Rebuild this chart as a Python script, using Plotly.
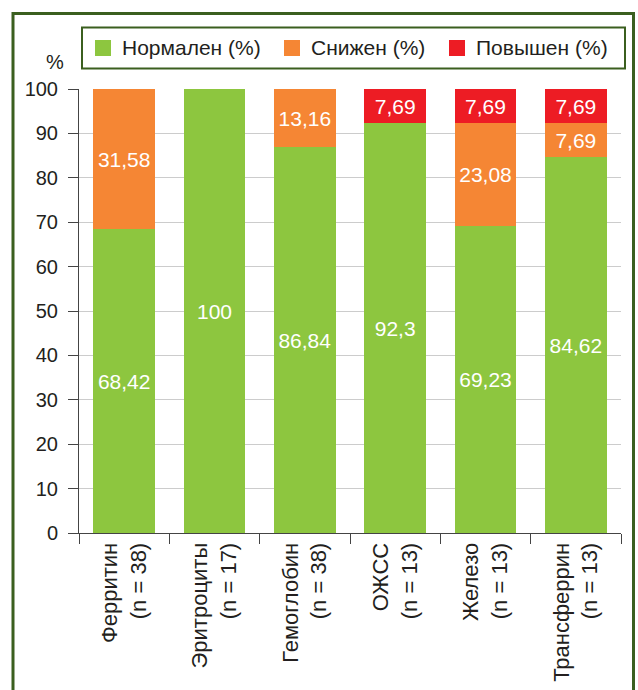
import plotly.graph_objects as go

categories = ["Ферритин<br>(n = 38)", "Эритроциты<br>(n = 17)", "Гемоглобин<br>(n = 38)",
              "ОЖСС<br>(n = 13)", "Железо<br>(n = 13)", "Трансферрин<br>(n = 13)"]
normal = [68.42, 100, 86.84, 92.3, 69.23, 84.62]
low = [31.58, 0, 13.16, 0, 23.08, 7.69]
high = [0, 0, 0, 7.69, 7.69, 7.69]
series_names = ["Нормален (%)", "Снижен (%)", "Повышен (%)"]
colors = ["#8DC63F", "#F58634", "#ED1C24"]
y_ticks = [0, 10, 20, 30, 40, 50, 60, 70, 80, 90, 100]

FONT = "Liberation Sans, Arial, Helvetica, sans-serif"
TXT = "#231f20"
BORDER = "#3b5f1f"

def fmt(v):
    return f"{v:g}".replace(".", ",") if v else ""

fig = go.Figure()
for name, vals, col in zip(series_names, [normal, low, high], colors):
    fig.add_trace(go.Bar(
        x=categories, y=[v if v else None for v in vals], name=name,
        marker=dict(color=col, line=dict(width=0)),
        text=[fmt(v) for v in vals], textposition="inside",
        insidetextanchor="middle", textangle=0,
        textfont=dict(color="white", size=21, family=FONT),
        hoverinfo="skip", showlegend=False,
    ))

# plot area in pixels: x 79..621, y 89..533
W, H = 638, 690
L, R, T, B = 79, 17, 89, 157
pw, ph = W - L - R, H - T - B

def px(x):
    return (x - L) / pw

def py(y):
    return (H - B - y) / ph

shapes = [
    # outer frame
    dict(type="rect", xref="paper", yref="paper",
         x0=px(13), x1=px(633.5), y0=py(720), y1=py(13.5),
         line=dict(color=BORDER, width=3), fillcolor="rgba(0,0,0,0)", layer="above"),
    # legend box
    dict(type="rect", xref="paper", yref="paper",
         x0=px(82), x1=px(625), y0=py(68.5), y1=py(27.5),
         line=dict(color=BORDER, width=2), fillcolor="white", layer="above"),
]
annotations = [dict(text="%", xref="paper", yref="paper", x=px(55), y=py(62),
                    xanchor="center", yanchor="middle",
                    showarrow=False, font=dict(size=20, family=FONT, color=TXT))]

legend_sq_x = [95, 284, 449]
for sx, name, col in zip(legend_sq_x, series_names, colors):
    shapes.append(dict(type="rect", xref="paper", yref="paper",
                       x0=px(sx), x1=px(sx + 16), y0=py(56), y1=py(40),
                       line=dict(width=0), fillcolor=col, layer="above"))
    annotations.append(dict(text=name, xref="paper", yref="paper",
                            x=px(sx + 25), y=py(48), xanchor="left", yanchor="middle",
                            showarrow=False, font=dict(size=21, family=FONT, color=TXT)))

fig.update_layout(
    width=W, height=H,
    margin=dict(l=L, r=R, t=T, b=B, pad=0, autoexpand=False),
    barmode="stack", bargap=0.32,
    paper_bgcolor="white", plot_bgcolor="white",
    font=dict(family=FONT, size=20, color=TXT),
    showlegend=False,
    uniformtext=dict(mode="show", minsize=10),
    xaxis=dict(showgrid=False, showline=True, linecolor="#444444", linewidth=1,
               ticks="outside", tickson="boundaries", ticklen=10, tickcolor="#444444",
               tickangle=-90, tickfont=dict(size=22, family=FONT, color=TXT),
               automargin=False, fixedrange=True),
    yaxis=dict(range=[0, 100], tickvals=y_ticks, showgrid=True, gridcolor="#cccccc",
               gridwidth=1, showline=True, linecolor="#444444", linewidth=1,
               ticks="outside", ticklen=10, tickcolor="#444444", zeroline=False,
               ticklabelstandoff=6, automargin=False,
               tickfont=dict(size=20, family=FONT, color=TXT), fixedrange=True),
    shapes=shapes,
    annotations=annotations,
)

fig.write_html("out.html", config={"displayModeBar": False},
               post_script="document.body.style.margin='0';document.body.style.overflow='hidden';")
